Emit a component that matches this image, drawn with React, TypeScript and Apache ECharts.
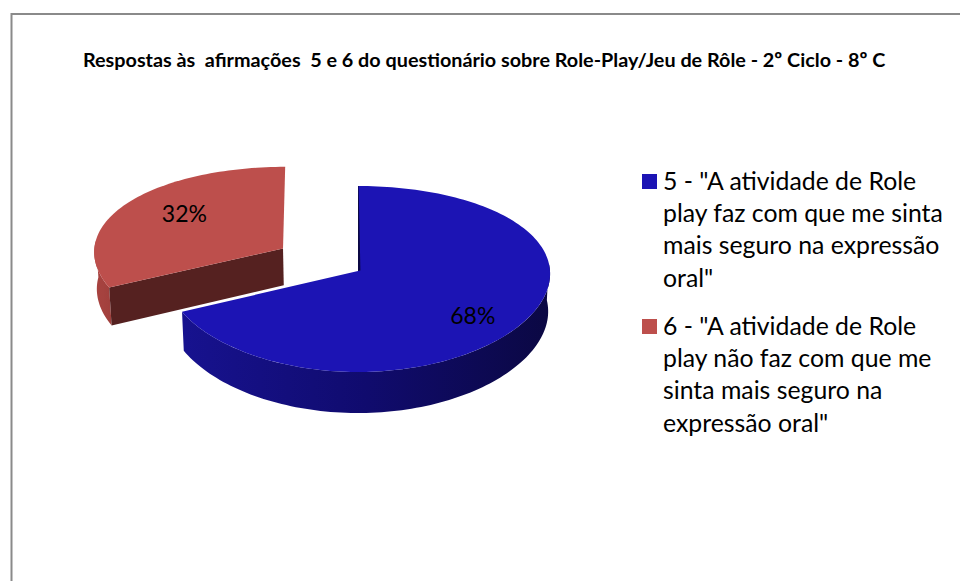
import React, { useEffect, useRef } from "react";
import * as echarts from "echarts";

const TITLE = "Respostas às  afirmações  5 e 6 do questionário sobre Role-Play/Jeu de Rôle - 2º Ciclo - 8º C";
const NAMES = ["5", "6"];
const VALUES = [68, 32];
const LEGEND_LINES = [
  ['5 - "A atividade de Role', "play faz com que me sinta", "mais seguro na expressão", 'oral"'],
  ['6 - "A atividade de Role', "play não faz com que me", "sinta mais seguro na", 'expressão oral"'],
];
const TOP_COLORS = ["#1c14b4", "#bd4f4c"];
const WALL_STOPS = [
  ["#17128f", "#100b6e", "#0b0843"],
  ["#a8433f", "#a5423f", "#a03f3c"],
];
const CUT_COLORS = ["#0b0843", "#552120"];
const EXPLODE = [0, 0.466];
const WIDTH_SCALE = [1, 0.99];
const LABEL_RADIUS = [0.7, 0.63];
const LABEL_SHIFT_Y = [8, -6];

const FONT = "Lato, 'Open Sans', sans-serif";

// Perspective projection of the unit disc onto the page
const CX = 358;
const CY = 271;
const A = 192;
const B = 92.3;
const K = 0.086;
const KX = 0.03;
const DEPTH = 37.5;
const BOTTOM_SHRINK = 0.99;
const DEG = Math.PI / 180;

function project(u: number, v: number, low: boolean): number[] {
  return [
    CX + (A * u * (low ? BOTTOM_SHRINK : 1)) / (1 + KX * v),
    CY + (-B * v + (low ? DEPTH : 0)) / (1 + K * v),
  ];
}

function sliceAngles(index: number): [number, number] {
  const total = VALUES.reduce((s, v) => s + v, 0);
  const before = VALUES.slice(0, index).reduce((s, v) => s + v, 0);
  return [(before / total) * 360, ((before + VALUES[index]) / total) * 360];
}

function renderSlice(index: number, value: number) {
  const total = VALUES.reduce((s, v) => s + v, 0);
  const [a0, a1] = sliceAngles(index);
  const mid = ((a0 + a1) / 2) * DEG;
  const ox = EXPLODE[index] * Math.sin(mid);
  const oy = EXPLODE[index] * Math.cos(mid);
  const at = (deg: number, r: number, low: boolean) =>
    project(ox + WIDTH_SCALE[index] * r * Math.sin(deg * DEG), oy + r * Math.cos(deg * DEG), low);

  const arc = (from: number, to: number, low: boolean) => {
    const pts: number[][] = [];
    const n = Math.max(2, Math.ceil(Math.abs(to - from) / 1.5));
    for (let i = 0; i <= n; i++) pts.push(at(from + ((to - from) * i) / n, 1, low));
    return pts;
  };

  const children: any[] = [];

  // Outer wall: only the part facing the viewer
  const wallFrom = Math.max(a0, 85);
  const wallTo = Math.min(a1, 275);
  if (wallTo > wallFrom) {
    children.push({
      type: "polygon",
      shape: { points: [...arc(wallFrom, wallTo, false), ...arc(wallTo, wallFrom, true)] },
      style: {
        fill: {
          type: "linear",
          x: 0,
          y: 0,
          x2: 1,
          y2: 0,
          colorStops: WALL_STOPS[index].map((color, i) => ({ offset: i / 2, color })),
        },
      },
    });
  }

  // Cut face of the slice that looks towards the viewer
  if (index === 1) {
    children.push({
      type: "polygon",
      shape: {
        points: [at(a0, 0, false), at(a0, 1, false), at(a0, 1, true), at(a0, 0, true)],
      },
      style: { fill: CUT_COLORS[index] },
    });
  }

  // Top face
  children.push({
    type: "polygon",
    shape: { points: [at(a0, 0, false), ...arc(a0, a1, false)] },
    style: { fill: TOP_COLORS[index] },
  });

  // Thin sliver of the inner wall along the twelve o'clock edge
  if (index === 0) {
    const p = at(a0, 0, false);
    const q = at(a0, 1, false);
    children.push({
      type: "polygon",
      shape: { points: [q, p, [p[0] + 2.4, p[1] - 0.6], [q[0] + 0.6, q[1]]] },
      style: { fill: CUT_COLORS[index] },
    });
  }

  const lp = at((a0 + a1) / 2, LABEL_RADIUS[index], false);
  children.push({
    type: "text",
    x: lp[0],
    y: lp[1] + LABEL_SHIFT_Y[index],
    style: {
      text: `${Math.round((value / total) * 100)}%`,
      fontFamily: FONT,
      fontSize: 23,
      fill: "#000",
      align: "center",
      verticalAlign: "middle",
    },
  });

  return { type: "group", children };
}

const LEGEND_TOPS = [164, 309];
const LINE_HEIGHT = 32.3;

function legendGraphics() {
  const out: any[] = [];
  LEGEND_LINES.forEach((lines, i) => {
    out.push({
      type: "rect",
      shape: { x: 642, y: LEGEND_TOPS[i] + 10, width: 15, height: 15 },
      style: { fill: TOP_COLORS[i] },
    });
    lines.forEach((line, j) => {
      out.push({
        type: "text",
        x: 663,
        y: LEGEND_TOPS[i] + j * LINE_HEIGHT + LINE_HEIGHT / 2,
        style: {
          text: line,
          fontFamily: FONT,
          fontSize: 24.8,
          fill: "#000",
          align: "left",
          verticalAlign: "middle",
        },
      });
    });
  });
  return out;
}

export default function App() {
  const ref = useRef<HTMLDivElement>(null);
  useEffect(() => {
    const chart = echarts.init(ref.current!, undefined, { renderer: "svg" });
    chart.setOption({
      animation: false,
      backgroundColor: "#ffffff",
      title: {
        text: TITLE,
        left: 78,
        top: 44,
        textStyle: { fontFamily: FONT, fontSize: 19.8, fontWeight: "bold", color: "#000" },
      },
      series: VALUES.map((v, i) => ({
        type: "custom",
        name: NAMES[i],
        coordinateSystem: "none",
        silent: true,
        z: i === 0 ? 3 : 2,
        data: [[v]],
        renderItem: (_p: any, api: any) => renderSlice(i, api.value(0)),
      })),
      graphic: [
        {
          type: "polyline",
          shape: { points: [[11.5, 581], [11.5, 14], [960, 14]] },
          style: { stroke: "#8a8a8a", lineWidth: 2, fill: "none" },
        },
        ...legendGraphics(),
      ],
    });
    return () => chart.dispose();
  }, []);
  return <div ref={ref} style={{ position: "absolute", left: 0, top: 0, width: 960, height: 581 }} />;
}
